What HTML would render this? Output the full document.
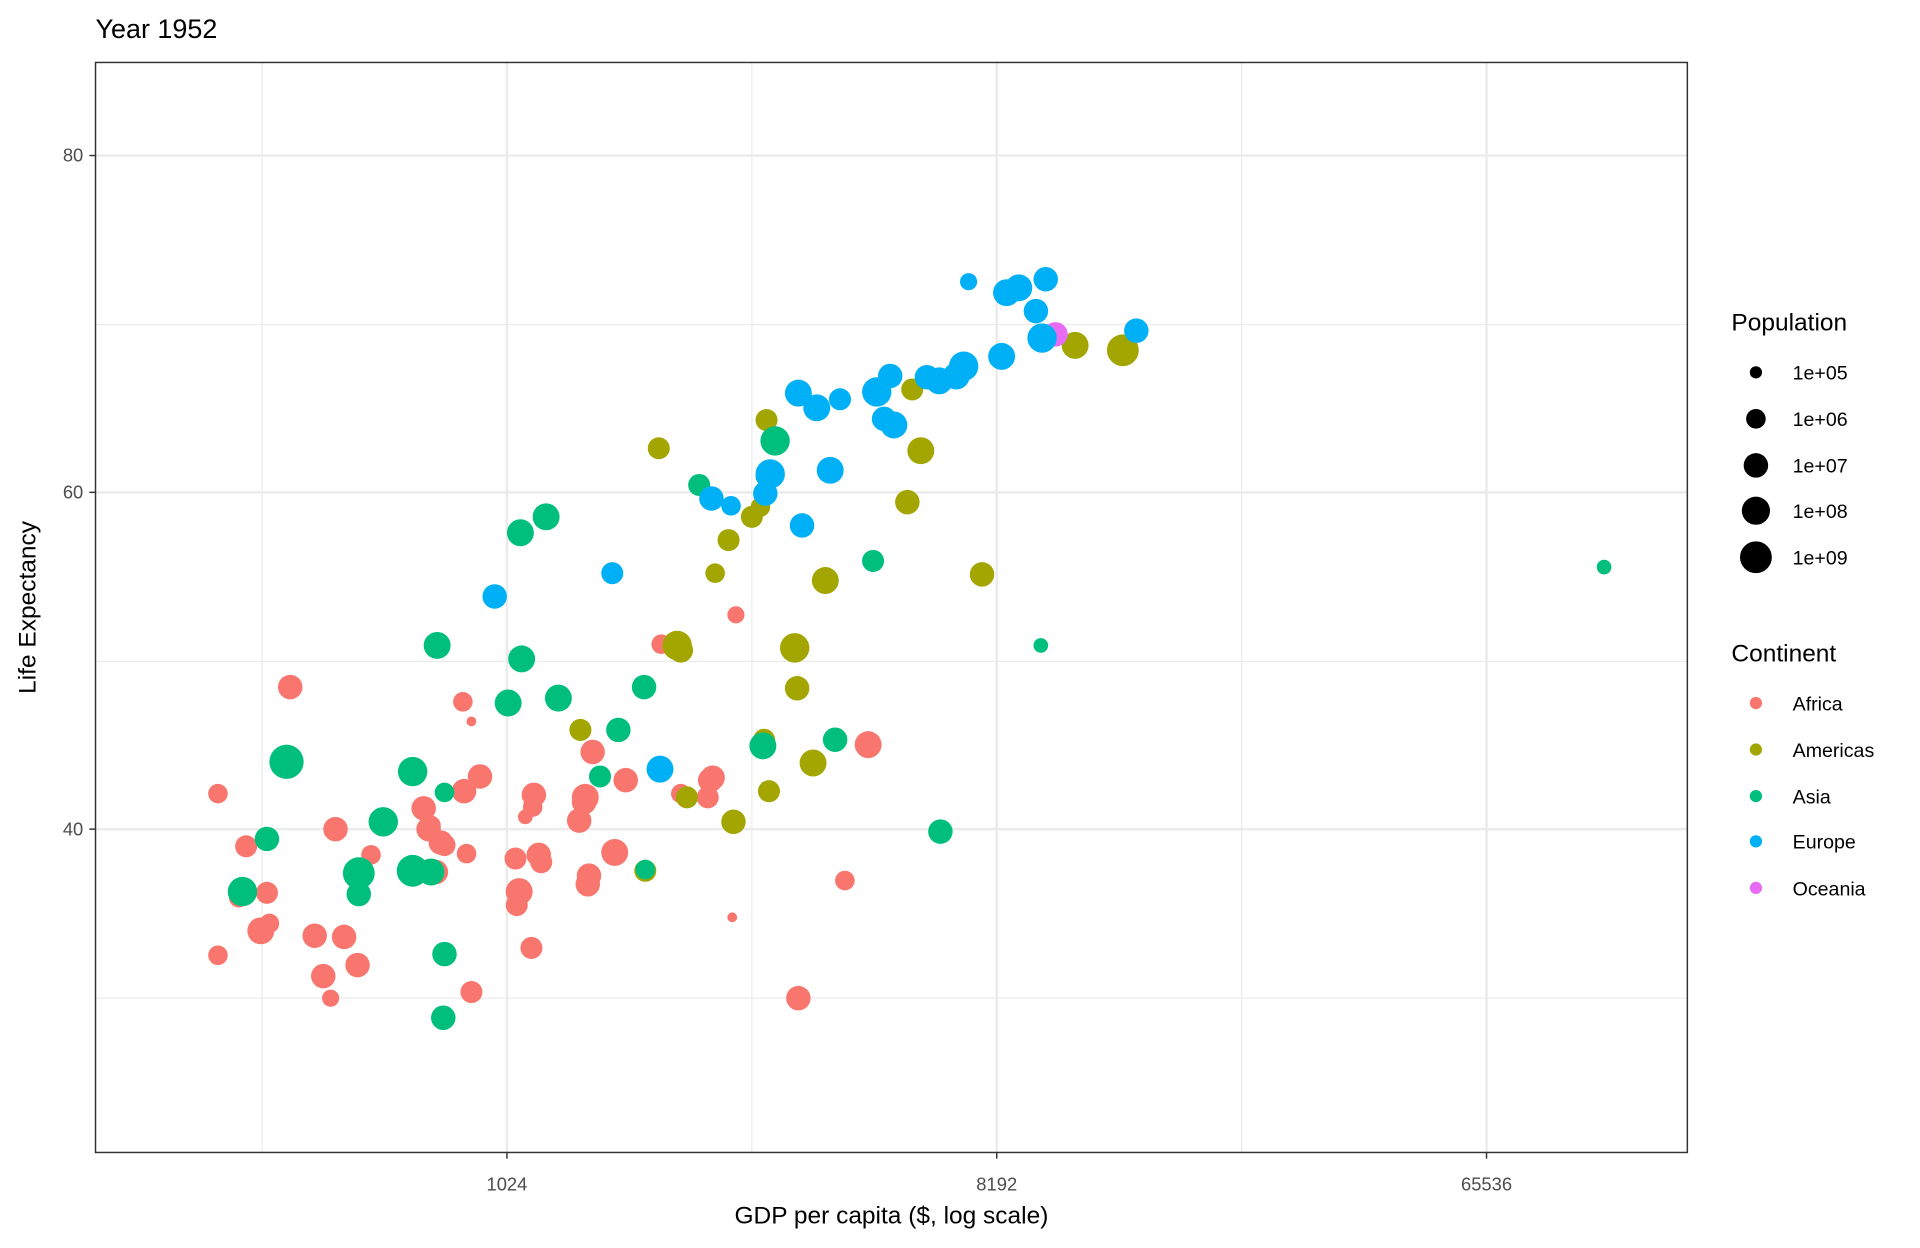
<!DOCTYPE html>
<html><head><meta charset="utf-8"><style>html,body{margin:0;padding:0;background:#fff}svg{display:block}text{font-family:"Liberation Sans",Arial,sans-serif}</style></head><body>
<svg width="1920" height="1248" viewBox="0 0 1568 1019" preserveAspectRatio="none" xmlns="http://www.w3.org/2000/svg">
<rect width="1568" height="1019" fill="#fff"/>
<text x="78" y="31" font-size="22" fill="#000">Year 1952</text>
<g stroke="#ebebeb" stroke-width="1">
<line x1="214" y1="51" x2="214" y2="941"/><line x1="614" y1="51" x2="614" y2="941"/><line x1="1014" y1="51" x2="1014" y2="941"/>
<line x1="78" y1="265" x2="1378" y2="265"/><line x1="78" y1="540" x2="1378" y2="540"/><line x1="78" y1="815" x2="1378" y2="815"/>
</g>
<g stroke="#ebebeb" stroke-width="2">
<line x1="414" y1="51" x2="414" y2="941"/><line x1="814" y1="51" x2="814" y2="941"/><line x1="1214" y1="51" x2="1214" y2="941"/>
<line x1="78" y1="127" x2="1378" y2="127"/><line x1="78" y1="402" x2="1378" y2="402"/><line x1="78" y1="677" x2="1378" y2="677"/>
</g>
<g fill="#F8766D">
<circle cx="178" cy="648" r="8"/><circle cx="237" cy="561" r="10"/><circle cx="201" cy="691" r="9"/><circle cx="195" cy="733" r="8"/><circle cx="218" cy="729" r="9"/><circle cx="220" cy="754" r="8"/><circle cx="213" cy="760" r="11"/><circle cx="178" cy="780" r="8"/><circle cx="257" cy="764" r="10"/><circle cx="264" cy="797" r="10"/><circle cx="270" cy="815" r="7"/><circle cx="281" cy="765" r="10"/><circle cx="292" cy="788" r="10"/><circle cx="274" cy="677" r="10"/><circle cx="303" cy="698" r="8"/><circle cx="346" cy="660" r="10"/><circle cx="350" cy="677" r="10"/><circle cx="352" cy="674" r="8"/><circle cx="360" cy="688" r="10"/><circle cx="363" cy="690" r="9"/><circle cx="356" cy="712" r="10"/><circle cx="379" cy="646" r="10"/><circle cx="381" cy="697" r="8"/><circle cx="392" cy="634" r="10"/><circle cx="378" cy="573" r="8"/><circle cx="385" cy="589" r="4"/><circle cx="385" cy="810" r="9"/><circle cx="421" cy="701" r="9"/><circle cx="424" cy="728" r="11"/><circle cx="422" cy="739" r="9"/><circle cx="429" cy="667" r="6"/><circle cx="435" cy="659" r="8"/><circle cx="436" cy="649" r="10"/><circle cx="440" cy="698" r="10"/><circle cx="442" cy="704" r="9"/><circle cx="434" cy="774" r="9"/><circle cx="473" cy="670" r="10"/><circle cx="478" cy="651" r="11"/><circle cx="477" cy="655" r="10"/><circle cx="484" cy="614" r="10"/><circle cx="481" cy="715" r="10"/><circle cx="480" cy="722" r="10"/><circle cx="502" cy="696" r="11"/><circle cx="511" cy="637" r="10"/><circle cx="540" cy="526" r="8"/><circle cx="556" cy="648" r="8"/><circle cx="580" cy="637" r="10"/><circle cx="578" cy="651" r="9"/><circle cx="582" cy="635" r="10"/><circle cx="601" cy="502" r="7"/><circle cx="598" cy="749" r="4"/><circle cx="652" cy="815" r="10"/><circle cx="690" cy="719" r="8"/><circle cx="709" cy="608" r="11"/>
</g>
<g fill="#A3A500">
<circle cx="538" cy="366" r="9"/><circle cx="474" cy="596" r="9"/><circle cx="527" cy="711" r="9"/><circle cx="553" cy="527" r="12"/><circle cx="556" cy="531" r="10"/><circle cx="561" cy="651" r="9"/><circle cx="584" cy="468" r="8"/><circle cx="595" cy="441" r="9"/><circle cx="599" cy="671" r="10"/><circle cx="614" cy="422" r="9"/><circle cx="621" cy="414" r="8"/><circle cx="624" cy="604" r="9"/><circle cx="626" cy="343" r="9"/><circle cx="628" cy="646" r="9"/><circle cx="649" cy="529" r="12"/><circle cx="651" cy="562" r="10"/><circle cx="664" cy="623" r="11"/><circle cx="674" cy="474" r="11"/><circle cx="741" cy="410" r="10"/><circle cx="745" cy="318" r="9"/><circle cx="752" cy="368" r="11"/><circle cx="802" cy="469" r="10"/><circle cx="878" cy="282" r="11"/><circle cx="917" cy="286" r="13"/>
</g>
<g fill="#00BF7D">
<circle cx="198" cy="728" r="12"/><circle cx="218" cy="685" r="10"/><circle cx="234" cy="622" r="14"/><circle cx="293" cy="713" r="13"/><circle cx="293" cy="730" r="10"/><circle cx="313" cy="671" r="12"/><circle cx="337" cy="630" r="12"/><circle cx="337" cy="711" r="13"/><circle cx="352" cy="712" r="11"/><circle cx="357" cy="527" r="11"/><circle cx="363" cy="647" r="8"/><circle cx="363" cy="779" r="10"/><circle cx="362" cy="831" r="10"/><circle cx="415" cy="574" r="11"/><circle cx="425" cy="435" r="11"/><circle cx="426" cy="538" r="11"/><circle cx="446" cy="422" r="11"/><circle cx="456" cy="570" r="11"/><circle cx="490" cy="634" r="9"/><circle cx="505" cy="596" r="10"/><circle cx="526" cy="561" r="10"/><circle cx="527" cy="710" r="8"/><circle cx="571" cy="396" r="9"/><circle cx="623" cy="609" r="11"/><circle cx="625" cy="389" r="8"/><circle cx="633" cy="360" r="12"/><circle cx="682" cy="604" r="10"/><circle cx="713" cy="458" r="9"/><circle cx="768" cy="679" r="10"/><circle cx="850" cy="527" r="6"/><circle cx="1310" cy="463" r="6"/>
</g>
<g fill="#00B0F6">
<circle cx="404" cy="487" r="10"/><circle cx="500" cy="468" r="9"/><circle cx="539" cy="628" r="11"/><circle cx="581" cy="407" r="10"/><circle cx="597" cy="413" r="8"/><circle cx="625" cy="403" r="10"/><circle cx="629" cy="387" r="12"/><circle cx="652" cy="321" r="11"/><circle cx="655" cy="429" r="10"/><circle cx="667" cy="333" r="11"/><circle cx="678" cy="384" r="11"/><circle cx="686" cy="326" r="9"/><circle cx="716" cy="320" r="12"/><circle cx="722" cy="342" r="10"/><circle cx="727" cy="307" r="10"/><circle cx="730" cy="347" r="11"/><circle cx="757" cy="308" r="10"/><circle cx="767" cy="311" r="11"/><circle cx="781" cy="307" r="11"/><circle cx="787" cy="299" r="12"/><circle cx="791" cy="230" r="7"/><circle cx="818" cy="291" r="11"/><circle cx="822" cy="239" r="11"/><circle cx="832" cy="235" r="11"/><circle cx="846" cy="254" r="10"/><circle cx="854" cy="228" r="10"/><circle cx="928" cy="270" r="10"/>
</g>
<circle cx="862" cy="273" r="10" fill="#E76BF3"/>
<circle cx="851" cy="276" r="12" fill="#00B0F6"/>
<rect x="78" y="51" width="1300" height="890" fill="none" stroke="#333" stroke-width="1.2"/>
<g stroke="#333" stroke-width="1.2">
<line x1="73" y1="127" x2="78" y2="127"/><line x1="73" y1="402" x2="78" y2="402"/><line x1="73" y1="677" x2="78" y2="677"/>
<line x1="414" y1="941" x2="414" y2="946"/><line x1="814" y1="941" x2="814" y2="946"/><line x1="1214" y1="941" x2="1214" y2="946"/>
</g>
<g font-size="15" fill="#4d4d4d" text-anchor="end">
<text x="68" y="132">80</text><text x="68" y="407">60</text><text x="68" y="682">40</text>
</g>
<g font-size="15" fill="#4d4d4d" text-anchor="middle">
<text x="414" y="972">1024</text><text x="814" y="972">8192</text><text x="1214" y="972">65536</text>
</g>
<text x="728" y="999" font-size="20" text-anchor="middle">GDP per capita ($, log scale)</text>
<text transform="translate(29,496) rotate(-90)" font-size="20" text-anchor="middle">Life Expectancy</text>
<text x="1414" y="270" font-size="20">Population</text>
<g fill="#000">
<circle cx="1434" cy="304" r="5"/><circle cx="1434" cy="342" r="8"/><circle cx="1434" cy="380" r="10"/><circle cx="1434" cy="417" r="11.5"/><circle cx="1434" cy="455" r="13"/>
</g>
<g font-size="16">
<text x="1464" y="310">1e+05</text><text x="1464" y="348">1e+06</text><text x="1464" y="386">1e+07</text><text x="1464" y="423">1e+08</text><text x="1464" y="461">1e+09</text>
</g>
<text x="1414" y="540" font-size="20">Continent</text>
<circle cx="1434" cy="574" r="5" fill="#F8766D"/><circle cx="1434" cy="612" r="5" fill="#A3A500"/><circle cx="1434" cy="650" r="5" fill="#00BF7D"/><circle cx="1434" cy="687" r="5" fill="#00B0F6"/><circle cx="1434" cy="725" r="5" fill="#E76BF3"/>
<g font-size="16">
<text x="1464" y="580">Africa</text><text x="1464" y="618">Americas</text><text x="1464" y="656">Asia</text><text x="1464" y="693">Europe</text><text x="1464" y="731">Oceania</text>
</g>
</svg>
</body></html>
